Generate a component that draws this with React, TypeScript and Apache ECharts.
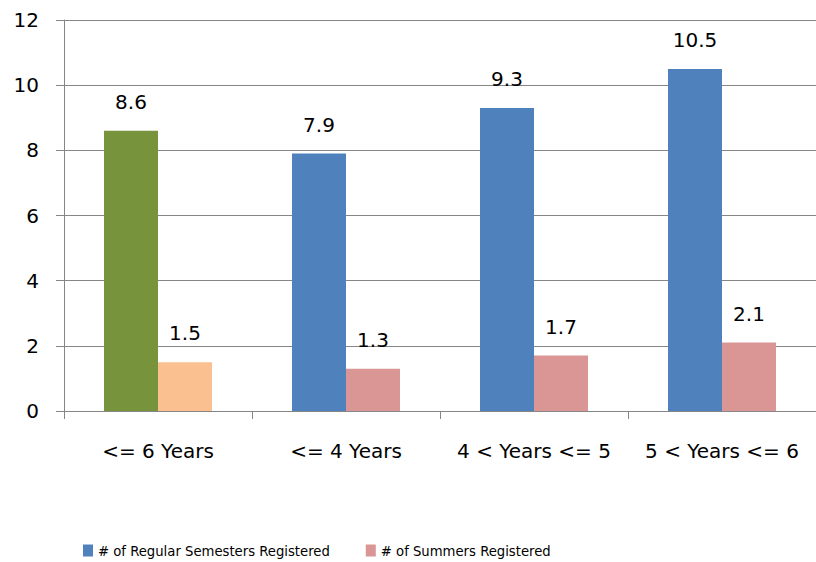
import React, { useEffect, useRef } from "react";
import * as echarts from "echarts";

const categories = ["<= 6 Years", "<= 4 Years", "4 < Years <= 5", "5 < Years <= 6"];
const regularSemesters = [8.6, 7.9, 9.3, 10.5];
const summers = [1.5, 1.3, 1.7, 2.1];
const yTicks = [0, 2, 4, 6, 8, 10, 12];
const seriesNames = ["# of Regular Semesters Registered", "# of Summers Registered"];

const BLUE = "#4F81BD";
const PINK = "#D99694";
const GREEN = "#77933C";
const PEACH = "#FAC090";
const GRAY = "#868686";
const FONT = "DejaVu Sans";

export default function App() {
  const ref = useRef<HTMLDivElement>(null);
  useEffect(() => {
    if (!ref.current) return;
    const chart = echarts.init(ref.current, undefined, { renderer: "svg" });
    const label = {
      show: true,
      position: "top",
      distance: 19,
      color: "#000",
      fontFamily: FONT,
      fontSize: 20,
    };
    chart.setOption({
      animation: false,
      backgroundColor: "#fff",
      grid: { left: 64, top: 20, height: 391, width: 758, containLabel: false },
      legend: {
        left: 78,
        top: 538,
        itemWidth: 10,
        itemHeight: 12,
        itemGap: 36,
        icon: "rect",
        textStyle: { fontFamily: "DejaVu Sans Condensed", fontSize: 14.7, color: "#000" },
        data: seriesNames,
      },
      xAxis: {
        type: "category",
        data: categories,
        axisLine: { lineStyle: { color: GRAY, width: 1 } },
        axisTick: { show: true, length: 8, lineStyle: { color: GRAY } },
        axisLabel: { interval: 0, margin: 30, color: "#000", fontFamily: FONT, fontSize: 20 },
      },
      yAxis: {
        type: "value",
        min: yTicks[0],
        max: yTicks[yTicks.length - 1],
        interval: 2,
        axisLine: { show: true, lineStyle: { color: GRAY, width: 1 } },
        axisTick: { show: true, length: 8, lineStyle: { color: GRAY } },
        splitLine: { show: true, lineStyle: { color: GRAY, width: 1 } },
        axisLabel: { margin: 25, color: "#000", fontFamily: FONT, fontSize: 20 },
      },
      series: [
        {
          name: seriesNames[0],
          type: "bar",
          barWidth: 54,
          barGap: "0%",
          itemStyle: { color: BLUE },
          label,
          data: regularSemesters.map((v, i) =>
            i === 0 ? { value: v, itemStyle: { color: GREEN } } : v
          ),
        },
        {
          name: seriesNames[1],
          type: "bar",
          barWidth: 54,
          barGap: "0%",
          itemStyle: { color: PINK },
          label,
          data: summers.map((v, i) =>
            i === 0 ? { value: v, itemStyle: { color: PEACH } } : v
          ),
        },
      ],
    });
    return () => chart.dispose();
  }, []);
  return <div ref={ref} style={{ width: 816, height: 562, position: "absolute", left: 0, top: 0 }} />;
}
